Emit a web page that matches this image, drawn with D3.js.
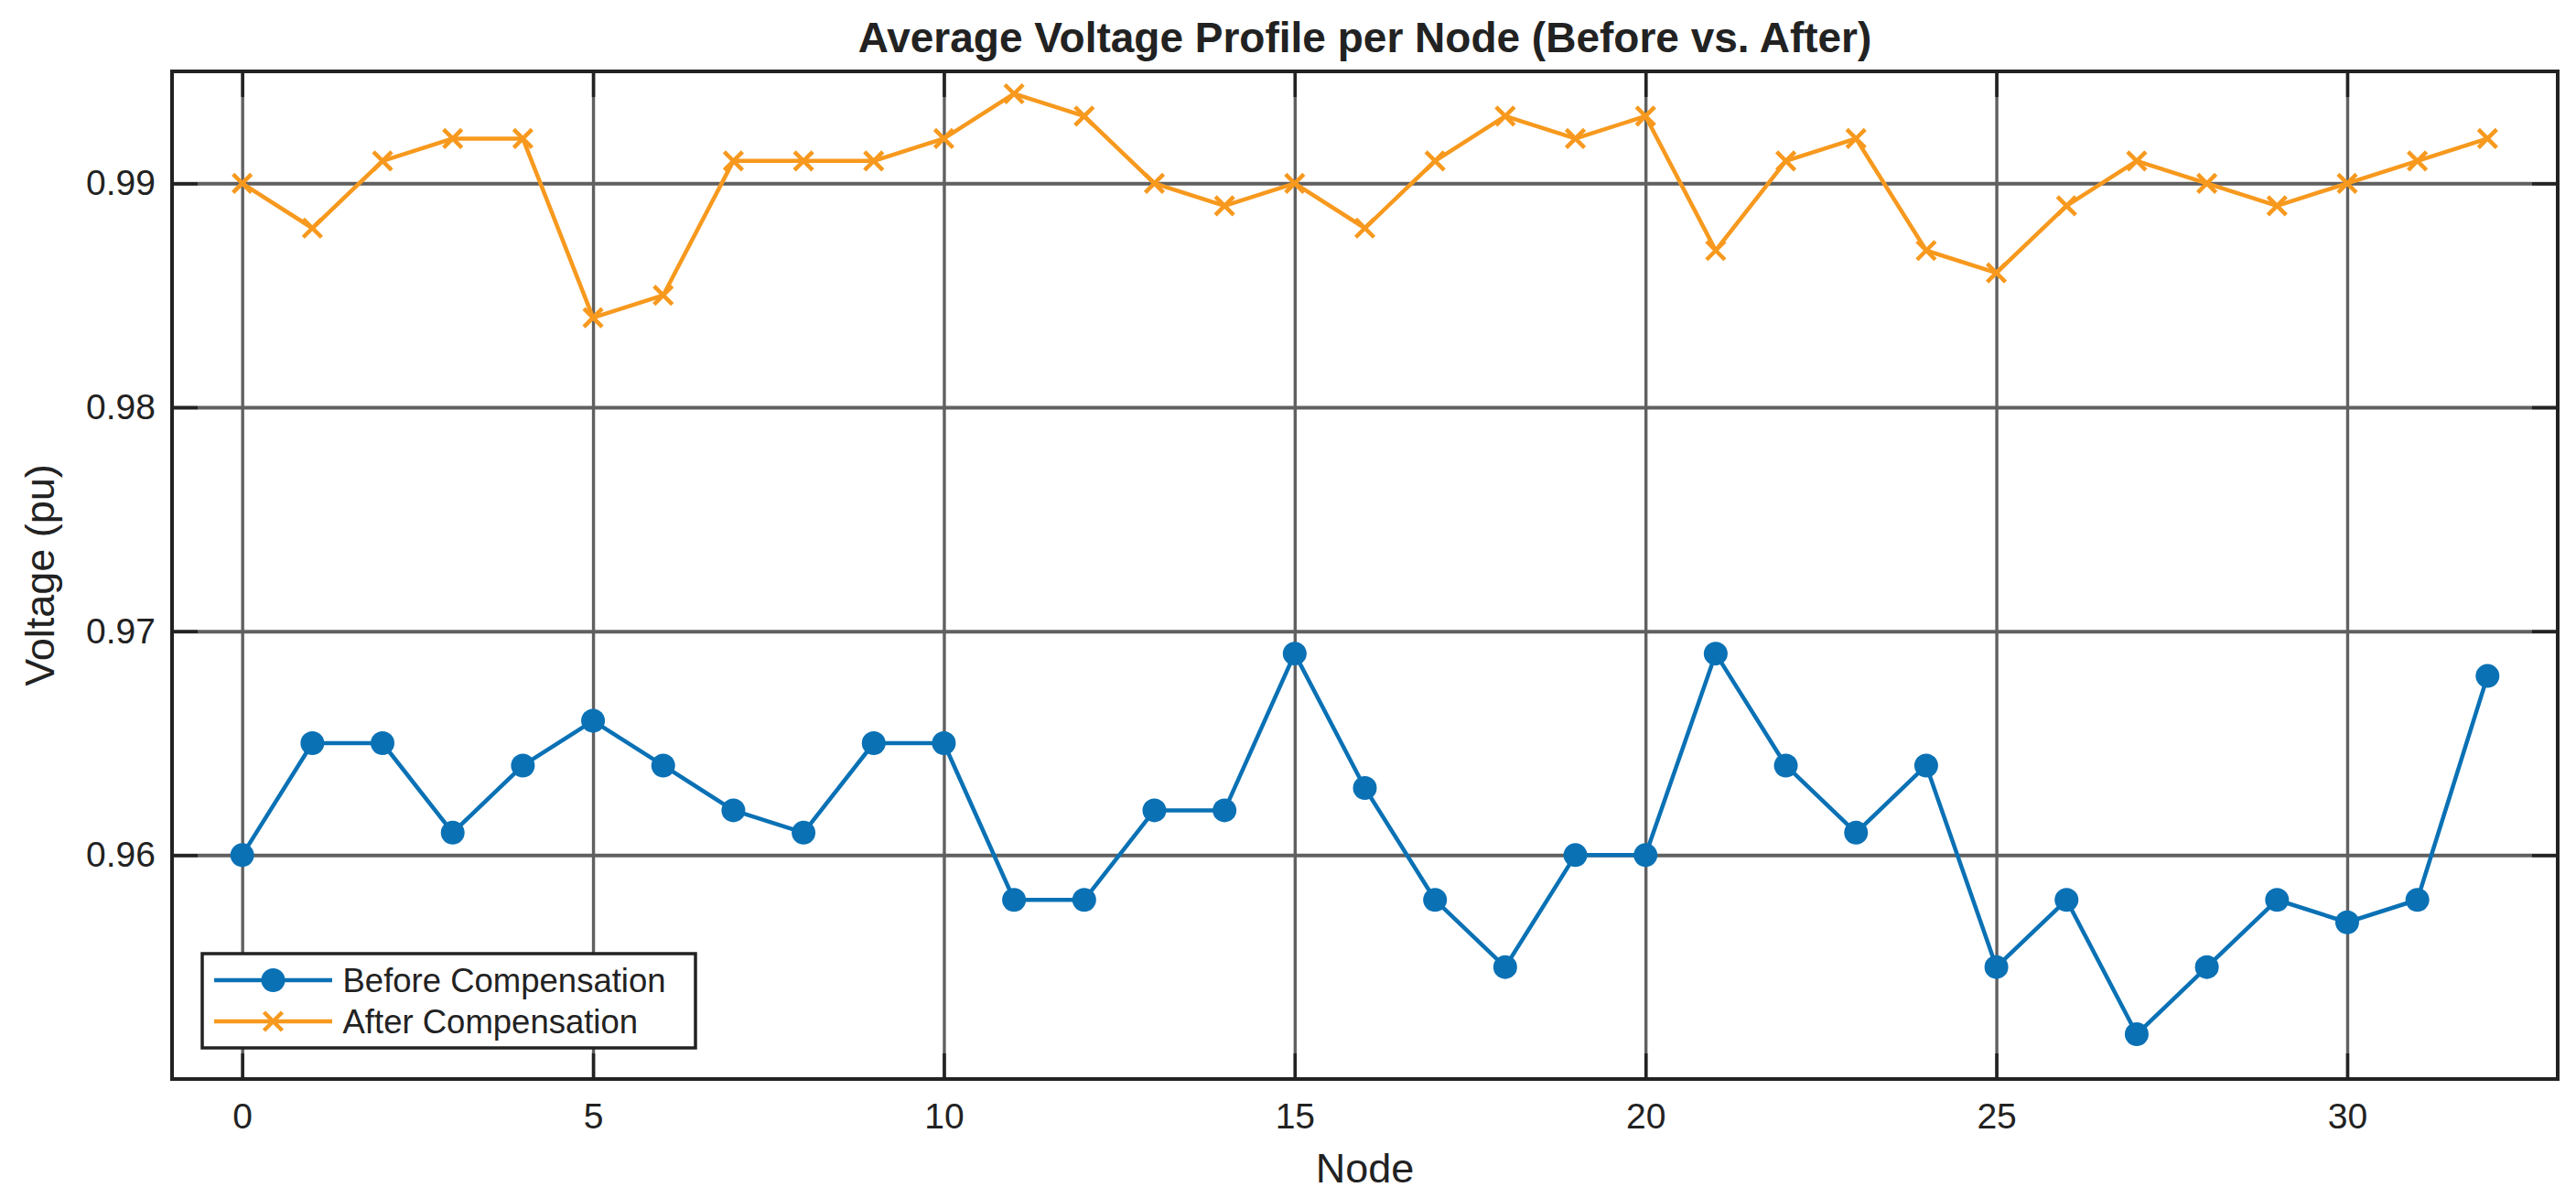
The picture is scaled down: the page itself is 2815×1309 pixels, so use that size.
<!DOCTYPE html>
<html>
<head>
<meta charset="utf-8">
<script src="https://cdn.jsdelivr.net/npm/d3@7"></script>
<style>
  body { margin: 0; background: #fff; }
  svg text { font-family: "Liberation Sans", Arial, sans-serif; fill: #222; }
</style>
</head>
<body>
<svg id="chart"></svg>
<script>
let width = 2815;
let height = 1309;
let margin = { top: 78, right: 20, bottom: 130, left: 188 };

// chart values
let nodes = [0, 1, 2, 3, 4, 5, 6, 7, 8, 9, 10, 11, 12, 13, 14, 15, 16,
  17, 18, 19, 20, 21, 22, 23, 24, 25, 26, 27, 28, 29, 30, 31, 32];
let before = [0.960, 0.965, 0.965, 0.961, 0.964, 0.966, 0.964, 0.962, 0.961, 0.965, 0.965,
  0.958, 0.958, 0.962, 0.962, 0.969, 0.963, 0.958, 0.955, 0.960, 0.960,
  0.969, 0.964, 0.961, 0.964, 0.955, 0.958, 0.952, 0.955, 0.958, 0.957, 0.958, 0.968];
let after = [0.990, 0.988, 0.991, 0.992, 0.992, 0.984, 0.985, 0.991, 0.991, 0.991, 0.992,
  0.994, 0.993, 0.990, 0.989, 0.990, 0.988, 0.991, 0.993, 0.992, 0.993,
  0.987, 0.991, 0.992, 0.987, 0.986, 0.989, 0.991, 0.990, 0.989, 0.990, 0.991, 0.992];
let xTicks = [0, 5, 10, 15, 20, 25, 30];
let yTicks = [0.96, 0.97, 0.98, 0.99];
let seriesNames = ['Before Compensation', 'After Compensation'];

let blue = '#0a71b5';
let orange = '#f7991e';
let ink = '#222';
let gridColor = '#606060';

let svg = d3.select('#chart')
  .attr('width', width)
  .attr('height', height)
  .attr('viewBox', [0, 0, width, height]);

let innerW = width - margin.left - margin.right;
let innerH = height - margin.top - margin.bottom;

let x = d3.scaleLinear().domain([-1, 33]).range([0, innerW]);
let y = d3.scaleLinear().domain([0.95, 0.995]).range([innerH, 0]);

let g = svg.append('g').attr('transform', `translate(${margin.left},${margin.top})`);

// grid
g.append('g')
  .attr('transform', `translate(0,${innerH})`)
  .call(d3.axisBottom(x).tickValues(xTicks).tickSize(-innerH).tickFormat(''))
  .call(s => s.select('.domain').remove())
  .call(s => s.selectAll('line').attr('stroke', gridColor).attr('stroke-width', 3.4));

g.append('g')
  .call(d3.axisLeft(y).tickValues(yTicks).tickSize(-innerW).tickFormat(''))
  .call(s => s.select('.domain').remove())
  .call(s => s.selectAll('line').attr('stroke', gridColor).attr('stroke-width', 4));

// inward ticks on all four sides
let tickLen = 28;
function styleAxis(s) {
  s.select('.domain').remove();
  s.selectAll('line').attr('stroke', ink).attr('stroke-width', 3.5);
  s.selectAll('text').attr('fill', ink).style('font-size', '39px');
}

g.append('g')
  .attr('transform', `translate(0,${innerH})`)
  .call(d3.axisBottom(x).tickValues(xTicks).tickSize(-tickLen).tickPadding(26))
  .call(styleAxis);

g.append('g')
  .call(d3.axisTop(x).tickValues(xTicks).tickSize(-tickLen).tickFormat(''))
  .call(styleAxis);

g.append('g')
  .call(d3.axisLeft(y).tickValues(yTicks).tickSize(-tickLen).tickPadding(18).tickFormat(d3.format('.2f')))
  .call(styleAxis);

g.append('g')
  .attr('transform', `translate(${innerW},0)`)
  .call(d3.axisRight(y).tickValues(yTicks).tickSize(-tickLen).tickFormat(''))
  .call(styleAxis);

// series
let seriesLine = d3.line().x((d, i) => x(nodes[i])).y(d => y(d));

g.append('path')
  .datum(before)
  .attr('fill', 'none')
  .attr('stroke', blue)
  .attr('stroke-width', 4.5)
  .attr('stroke-linejoin', 'round')
  .attr('d', seriesLine);

g.append('g')
  .selectAll('circle')
  .data(before)
  .join('circle')
  .attr('cx', (d, i) => x(nodes[i]))
  .attr('cy', d => y(d))
  .attr('r', 13)
  .attr('fill', blue);

g.append('path')
  .datum(after)
  .attr('fill', 'none')
  .attr('stroke', orange)
  .attr('stroke-width', 4.5)
  .attr('stroke-linejoin', 'round')
  .attr('d', seriesLine);

let cross = 'M-10,-10L10,10M-10,10L10,-10';
g.append('g')
  .selectAll('path')
  .data(after)
  .join('path')
  .attr('transform', (d, i) => `translate(${x(nodes[i])},${y(d)})`)
  .attr('d', cross)
  .attr('stroke', orange)
  .attr('stroke-width', 4.5)
  .attr('fill', 'none');

// frame
g.append('rect')
  .attr('width', innerW)
  .attr('height', innerH)
  .attr('fill', 'none')
  .attr('stroke', ink)
  .attr('stroke-width', 4);

// titles
svg.append('text')
  .attr('x', margin.left + innerW / 2)
  .attr('y', 57)
  .attr('text-anchor', 'middle')
  .style('font-size', '46px')
  .style('font-weight', 'bold')
  .text('Average Voltage Profile per Node (Before vs. After)');

svg.append('text')
  .attr('x', margin.left + innerW / 2)
  .attr('y', 1292)
  .attr('text-anchor', 'middle')
  .style('font-size', '45px')
  .text('Node');

svg.append('text')
  .attr('transform', `translate(59,${margin.top + innerH / 2}) rotate(-90)`)
  .attr('text-anchor', 'middle')
  .style('font-size', '45px')
  .text('Voltage (pu)');

// legend
let legend = svg.append('g').attr('transform', 'translate(221,1042)');
legend.append('rect')
  .attr('width', 539)
  .attr('height', 103)
  .attr('fill', '#fff')
  .attr('stroke', ink)
  .attr('stroke-width', 3.5);

let rows = legend.selectAll('g.row')
  .data(seriesNames)
  .join('g')
  .attr('class', 'row')
  .attr('transform', (d, i) => `translate(0,${29 + i * 45})`);

rows.append('line')
  .attr('x1', 13).attr('x2', 142)
  .attr('stroke', (d, i) => i === 0 ? blue : orange)
  .attr('stroke-width', 4.5);

rows.filter((d, i) => i === 0).append('circle')
  .attr('cx', 77.5).attr('r', 13).attr('fill', blue);

rows.filter((d, i) => i === 1).append('path')
  .attr('transform', 'translate(77.5,0)')
  .attr('d', cross)
  .attr('stroke', orange)
  .attr('stroke-width', 4.5);

rows.append('text')
  .attr('x', 153.5)
  .attr('dy', '0.35em')
  .style('font-size', '36.5px')
  .text(d => d);
</script>
</body>
</html>
